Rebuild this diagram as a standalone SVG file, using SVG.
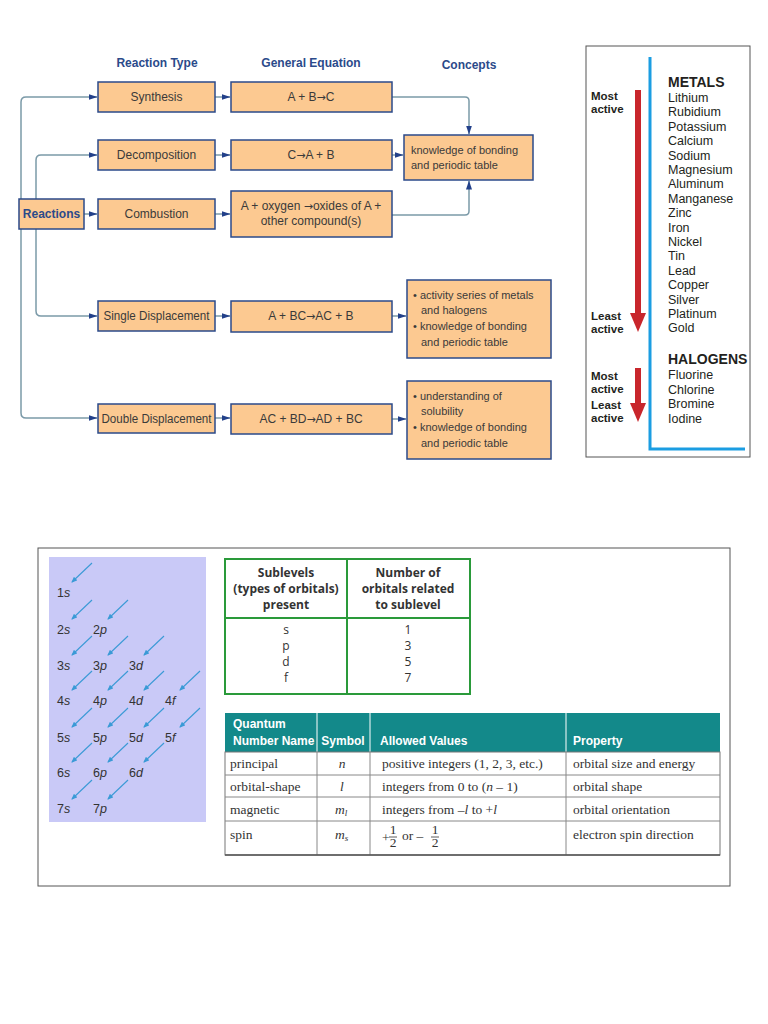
<svg xmlns="http://www.w3.org/2000/svg" width="768" height="1024" viewBox="0 0 768 1024">
<defs>
<marker id="ah" markerWidth="9" markerHeight="6" refX="8.5" refY="3" orient="auto" markerUnits="userSpaceOnUse"><path d="M0,0 L9,3 L0,6 z" fill="#22408a"/></marker>
<marker id="oa" markerWidth="6" markerHeight="5" refX="5" refY="2.5" orient="auto" markerUnits="userSpaceOnUse"><path d="M0,0 L6,2.5 L0,5 z" fill="#3a9ad6"/></marker>
<style>
.box{fill:#fcc991;stroke:#2b4a8a;stroke-width:1.5}
.t{font-family:"Liberation Sans",Arial,sans-serif;font-size:12px;fill:#3a3a3a}
.ar{font-family:"DejaVu Sans",sans-serif;font-size:11px}
.c{font-family:"Liberation Sans",Arial,sans-serif;font-size:11px;fill:#3a3a3a}
.h{font-family:"Liberation Sans",Arial,sans-serif;font-size:12px;font-weight:bold;fill:#2b4a8a}
.con{fill:none;stroke:#7b9aa8;stroke-width:1.5}
.r{font-family:"Liberation Sans",Arial,sans-serif;font-size:12.5px;fill:#231f20}
.rb{font-family:"Liberation Sans",Arial,sans-serif;font-size:14px;font-weight:bold;fill:#231f20}
.ra{font-family:"Liberation Sans",Arial,sans-serif;font-size:11.5px;font-weight:bold;fill:#231f20}
.ol{font-family:"Liberation Sans",Arial,sans-serif;font-size:12.5px;fill:#333}
.oar{stroke:#3a9ad6;stroke-width:1.1;fill:none}
.sh{font-family:"Open Sans","Noto Sans",sans-serif;font-size:12px;font-weight:bold;fill:#333}
.sd{font-family:"Open Sans","Noto Sans",sans-serif;font-size:12px;fill:#333}
.qh{font-family:"Liberation Sans",Arial,sans-serif;font-size:12px;font-weight:bold;fill:#fff}
.q{font-family:"Liberation Serif","Times New Roman",serif;font-size:13.5px;fill:#333}
.qi{font-family:"Liberation Serif","Times New Roman",serif;font-size:13.5px;font-style:italic;fill:#333}
.gl{stroke:#888;stroke-width:1}
</style>
</defs>
<rect width="768" height="1024" fill="#fff"/>

<!-- headers -->
<text class="h" x="157" y="67" text-anchor="middle">Reaction Type</text>
<text class="h" x="311" y="67" text-anchor="middle">General Equation</text>
<text class="h" x="469" y="69" text-anchor="middle">Concepts</text>

<!-- connectors -->
<g id="connectors">
<path class="con" d="M21 258 V102 Q21 97 26 97 H97" marker-end="url(#ah)"/>
<path class="con" d="M21 258 V413 Q21 418 26 418 H97" marker-end="url(#ah)"/>
<path class="con" d="M36 236 V160 Q36 155 41 155 H97" marker-end="url(#ah)"/>
<path class="con" d="M36 236 V311 Q36 316 41 316 H97" marker-end="url(#ah)"/>
<path class="con" d="M84 214 H97" marker-end="url(#ah)"/>
<path class="con" d="M215 97 H230" marker-end="url(#ah)"/>
<path class="con" d="M215 155 H230" marker-end="url(#ah)"/>
<path class="con" d="M215 214 H230" marker-end="url(#ah)"/>
<path class="con" d="M215 316 H230" marker-end="url(#ah)"/>
<path class="con" d="M215 418 H230" marker-end="url(#ah)"/>
<path class="con" d="M392 97 H465 Q469 97 469 101 V134" marker-end="url(#ah)"/>
<path class="con" d="M392 155 H403" marker-end="url(#ah)"/>
<path class="con" d="M392 215 H465 Q469 215 469 211 V181" marker-end="url(#ah)"/>
<path class="con" d="M392 316 H406" marker-end="url(#ah)"/>
<path class="con" d="M392 419 H406" marker-end="url(#ah)"/>
</g>

<!-- nodes -->
<g id="reactions"><rect class="box" x="19" y="199" width="65" height="30"/><text class="h" x="51.5" y="218" text-anchor="middle" font-size="11.5">Reactions</text></g>
<g id="synthesis"><rect class="box" x="98" y="82" width="117" height="30"/><text class="t" x="156.5" y="101" text-anchor="middle">Synthesis</text></g>
<g id="decomposition"><rect class="box" x="98" y="140" width="117" height="30"/><text class="t" x="156.5" y="159" text-anchor="middle">Decomposition</text></g>
<g id="combustion"><rect class="box" x="98" y="199" width="117" height="30"/><text class="t" x="156.5" y="218" text-anchor="middle">Combustion</text></g>
<g id="single"><rect class="box" x="98" y="301" width="117" height="30"/><text class="t" x="156.5" y="320" text-anchor="middle" textLength="106" lengthAdjust="spacingAndGlyphs">Single Displacement</text></g>
<g id="double"><rect class="box" x="98" y="404" width="117" height="29"/><text class="t" x="156.5" y="423" text-anchor="middle" textLength="110" lengthAdjust="spacingAndGlyphs">Double Displacement</text></g>

<g id="eq-synthesis"><rect class="box" x="231" y="82" width="161" height="30"/><text class="t" x="311" y="101" text-anchor="middle">A + B<tspan class="ar">→</tspan>C</text></g>
<g id="eq-decomposition"><rect class="box" x="231" y="140" width="161" height="30"/><text class="t" x="311" y="159" text-anchor="middle">C<tspan class="ar">→</tspan>A + B</text></g>
<g id="eq-combustion"><rect class="box" x="231" y="191" width="161" height="46"/><text class="t" x="311" y="210" text-anchor="middle">A + oxygen <tspan class="ar">→</tspan>oxides of A +</text><text class="t" x="311" y="225" text-anchor="middle">other compound(s)</text></g>
<g id="eq-single"><rect class="box" x="231" y="301" width="161" height="31"/><text class="t" x="311" y="320" text-anchor="middle">A + BC<tspan class="ar">→</tspan>AC + B</text></g>
<g id="eq-double"><rect class="box" x="231" y="404" width="161" height="30"/><text class="t" x="311" y="423" text-anchor="middle">AC + BD<tspan class="ar">→</tspan>AD + BC</text></g>

<g id="concept-1"><rect class="box" x="404" y="135" width="129" height="45"/><text class="c" x="411" y="154">knowledge of bonding</text><text class="c" x="411" y="169">and periodic table</text></g>
<g id="concept-2"><rect class="box" x="407" y="280" width="144" height="78"/><text class="c" x="413" y="299">• activity series of metals</text><text class="c" x="421" y="314">and halogens</text><text class="c" x="413" y="330">• knowledge of bonding</text><text class="c" x="421" y="346">and periodic table</text></g>
<g id="concept-3"><rect class="box" x="407" y="381" width="144" height="78"/><text class="c" x="413" y="400">• understanding of</text><text class="c" x="421" y="415">solubility</text><text class="c" x="413" y="431">• knowledge of bonding</text><text class="c" x="421" y="447">and periodic table</text></g>

<!-- activity series -->
<g id="activity-series">
<rect x="586" y="46" width="164" height="411" fill="#fff" stroke="#555" stroke-width="1"/>
<path d="M650 57 V449 H745" fill="none" stroke="#1b9de2" stroke-width="3"/>
<rect x="635" y="90" width="6" height="224" fill="#c8262c"/>
<polygon points="630,313 646,313 638,332" fill="#c8262c"/>
<rect x="635" y="368" width="6" height="36" fill="#c8262c"/>
<polygon points="630,403 646,403 638,422" fill="#c8262c"/>
<text class="ra" x="591" y="100">Most</text><text class="ra" x="591" y="113">active</text>
<text class="ra" x="591" y="320">Least</text><text class="ra" x="591" y="333">active</text>
<text class="ra" x="591" y="380">Most</text><text class="ra" x="591" y="393">active</text>
<text class="ra" x="591" y="409">Least</text><text class="ra" x="591" y="422">active</text>
<text class="rb" x="668" y="87">METALS</text>
<text class="r" x="668" y="102">Lithium</text>
<text class="r" x="668" y="116.4">Rubidium</text>
<text class="r" x="668" y="130.8">Potassium</text>
<text class="r" x="668" y="145.2">Calcium</text>
<text class="r" x="668" y="159.6">Sodium</text>
<text class="r" x="668" y="174">Magnesium</text>
<text class="r" x="668" y="188.4">Aluminum</text>
<text class="r" x="668" y="202.8">Manganese</text>
<text class="r" x="668" y="217.2">Zinc</text>
<text class="r" x="668" y="231.6">Iron</text>
<text class="r" x="668" y="246">Nickel</text>
<text class="r" x="668" y="260.4">Tin</text>
<text class="r" x="668" y="274.8">Lead</text>
<text class="r" x="668" y="289.2">Copper</text>
<text class="r" x="668" y="303.6">Silver</text>
<text class="r" x="668" y="318">Platinum</text>
<text class="r" x="668" y="332.4">Gold</text>
<text class="rb" x="668" y="364">HALOGENS</text>
<text class="r" x="668" y="379">Fluorine</text>
<text class="r" x="668" y="393.5">Chlorine</text>
<text class="r" x="668" y="408">Bromine</text>
<text class="r" x="668" y="422.5">Iodine</text>
</g>

<!-- bottom frame -->
<rect x="38" y="548" width="692" height="338" fill="none" stroke="#555" stroke-width="1"/>

<!-- orbital diagram -->
<g id="orbital-filling">
<rect x="49" y="557" width="157" height="265" fill="#c9c9f7"/>
<g class="oar" marker-end="url(#oa)">
<path d="M92 563 L72 582"/>
<path d="M92 600 L72 619"/><path d="M128 600 L108 619"/>
<path d="M92 636 L72 655"/><path d="M128 636 L108 655"/><path d="M164 636 L144 655"/>
<path d="M92 671 L72 690"/><path d="M128 671 L108 690"/><path d="M164 671 L144 690"/><path d="M200 671 L180 690"/>
<path d="M92 708 L72 727"/><path d="M128 708 L108 727"/><path d="M164 708 L144 727"/><path d="M200 708 L180 727"/>
<path d="M92 743 L72 762"/><path d="M128 743 L108 762"/><path d="M164 743 L144 762"/>
<path d="M92 780 L72 799"/><path d="M128 780 L108 799"/>
</g>
<text class="ol" x="57" y="597">1<tspan font-style="italic">s</tspan></text>
<text class="ol" x="57" y="634">2<tspan font-style="italic">s</tspan></text><text class="ol" x="93" y="634">2<tspan font-style="italic">p</tspan></text>
<text class="ol" x="57" y="670">3<tspan font-style="italic">s</tspan></text><text class="ol" x="93" y="670">3<tspan font-style="italic">p</tspan></text><text class="ol" x="129" y="670">3<tspan font-style="italic">d</tspan></text>
<text class="ol" x="57" y="705">4<tspan font-style="italic">s</tspan></text><text class="ol" x="93" y="705">4<tspan font-style="italic">p</tspan></text><text class="ol" x="129" y="705">4<tspan font-style="italic">d</tspan></text><text class="ol" x="165" y="705">4<tspan font-style="italic">f</tspan></text>
<text class="ol" x="57" y="742">5<tspan font-style="italic">s</tspan></text><text class="ol" x="93" y="742">5<tspan font-style="italic">p</tspan></text><text class="ol" x="129" y="742">5<tspan font-style="italic">d</tspan></text><text class="ol" x="165" y="742">5<tspan font-style="italic">f</tspan></text>
<text class="ol" x="57" y="777">6<tspan font-style="italic">s</tspan></text><text class="ol" x="93" y="777">6<tspan font-style="italic">p</tspan></text><text class="ol" x="129" y="777">6<tspan font-style="italic">d</tspan></text>
<text class="ol" x="57" y="813">7<tspan font-style="italic">s</tspan></text><text class="ol" x="93" y="813">7<tspan font-style="italic">p</tspan></text>
</g>

<!-- sublevels table -->
<g id="sublevels-table">
<rect x="225" y="559" width="245" height="135" fill="#fff" stroke="#2a9a3a" stroke-width="2"/>
<line x1="347" y1="559" x2="347" y2="694" stroke="#2a9a3a" stroke-width="2"/>
<line x1="225" y1="618" x2="470" y2="618" stroke="#2a9a3a" stroke-width="2"/>
<text class="sh" x="286" y="577" text-anchor="middle">Sublevels</text>
<text class="sh" x="286" y="593" text-anchor="middle">(types of orbitals)</text>
<text class="sh" x="286" y="609" text-anchor="middle">present</text>
<text class="sh" x="408" y="577" text-anchor="middle">Number of</text>
<text class="sh" x="408" y="593" text-anchor="middle">orbitals related</text>
<text class="sh" x="408" y="609" text-anchor="middle">to sublevel</text>
<text class="sd" x="286" y="634" text-anchor="middle">s</text><text class="sd" x="408" y="634" text-anchor="middle">1</text>
<text class="sd" x="286" y="650" text-anchor="middle">p</text><text class="sd" x="408" y="650" text-anchor="middle">3</text>
<text class="sd" x="286" y="666" text-anchor="middle">d</text><text class="sd" x="408" y="666" text-anchor="middle">5</text>
<text class="sd" x="286" y="682" text-anchor="middle">f</text><text class="sd" x="408" y="682" text-anchor="middle">7</text>
</g>

<!-- quantum numbers table -->
<g id="quantum-table">
<rect x="225" y="713" width="495" height="39" fill="#13898a"/>
<line x1="317" y1="713" x2="317" y2="752" stroke="#fff" stroke-width="1"/>
<line x1="370" y1="713" x2="370" y2="752" stroke="#fff" stroke-width="1"/>
<line x1="566" y1="713" x2="566" y2="752" stroke="#fff" stroke-width="1"/>
<rect x="225" y="752" width="495" height="103" fill="#fff" stroke="#777" stroke-width="1"/>
<line class="gl" x1="225" y1="775" x2="720" y2="775"/>
<line class="gl" x1="225" y1="797" x2="720" y2="797"/>
<line class="gl" x1="225" y1="821" x2="720" y2="821"/>
<line class="gl" x1="317" y1="752" x2="317" y2="855"/>
<line class="gl" x1="370" y1="752" x2="370" y2="855"/>
<line class="gl" x1="566" y1="752" x2="566" y2="855"/>
<line x1="225" y1="855" x2="720" y2="855" stroke="#555" stroke-width="1.5"/>
<text class="qh" x="233" y="728">Quantum</text>
<text class="qh" x="233" y="745">Number Name</text>
<text class="qh" x="343" y="745" text-anchor="middle">Symbol</text>
<text class="qh" x="380" y="745">Allowed Values</text>
<text class="qh" x="573" y="745">Property</text>
<text class="q" x="230" y="768">principal</text>
<text class="qi" x="342" y="768" text-anchor="middle">n</text>
<text class="q" x="382" y="768">positive integers (1, 2, 3, etc.)</text>
<text class="q" x="573" y="768">orbital size and energy</text>
<text class="q" x="230" y="791">orbital-shape</text>
<text class="qi" x="342" y="791" text-anchor="middle">l</text>
<text class="q" x="382" y="791">integers from 0 to (<tspan font-style="italic">n</tspan> – 1)</text>
<text class="q" x="573" y="791">orbital shape</text>
<text class="q" x="230" y="814">magnetic</text>
<text class="qi" x="335" y="814">m<tspan font-size="9" dy="2">l</tspan></text>
<text class="q" x="382" y="814">integers from –<tspan font-style="italic">l</tspan> to +<tspan font-style="italic">l</tspan></text>
<text class="q" x="573" y="814">orbital orientation</text>
<text class="q" x="230" y="839">spin</text>
<text class="qi" x="335" y="839">m<tspan font-size="9" dy="2">s</tspan></text>
<text class="q" x="382" y="842">+</text>
<text class="q" x="393" y="834" font-size="10" text-anchor="middle">1</text>
<line x1="389" y1="837" x2="397" y2="837" stroke="#333" stroke-width="0.8"/>
<text class="q" x="393" y="847" font-size="10" text-anchor="middle">2</text>
<text class="q" x="402" y="840">or –</text>
<text class="q" x="435" y="834" font-size="10" text-anchor="middle">1</text>
<line x1="431" y1="837" x2="439" y2="837" stroke="#333" stroke-width="0.8"/>
<text class="q" x="435" y="847" font-size="10" text-anchor="middle">2</text>
<text class="q" x="573" y="839">electron spin direction</text>
</g>
</svg>
